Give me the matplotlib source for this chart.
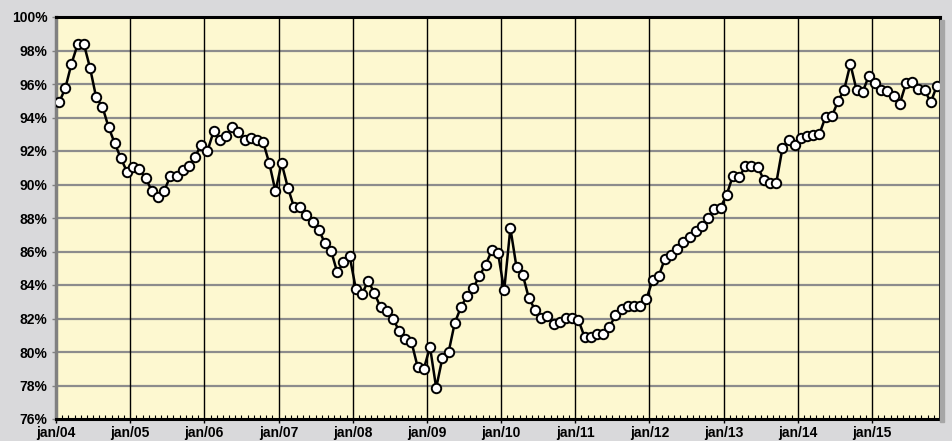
import numpy as np
import matplotlib
matplotlib.use("Agg")
import matplotlib.pyplot as plt
from matplotlib.patches import Rectangle
from matplotlib.ticker import FixedLocator, PercentFormatter

# Monthly values (%), jan/04 .. nov/15
y2004 = [94.9, 95.74, 97.2, 98.37, 98.4, 96.97, 95.2, 94.65, 93.43, 92.46, 91.56, 90.75]
y2005 = [91.03, 90.9, 90.37, 89.63, 89.23, 89.63, 90.49, 90.5, 90.85, 91.09, 91.66, 92.38]
y2006 = [92.0, 93.18, 92.66, 92.88, 93.43, 93.13, 92.66, 92.78, 92.66, 92.54, 91.27, 89.6]
y2007 = [91.27, 89.82, 88.65, 88.65, 88.15, 87.77, 87.31, 86.5, 86.04, 84.75, 85.35, 85.72]
y2008 = [83.78, 83.46, 84.25, 83.52, 82.67, 82.43, 81.97, 81.28, 80.8, 80.6, 79.11, 78.99]
y2009 = [80.3, 77.86, 79.63, 79.98, 81.73, 82.67, 83.36, 83.82, 84.55, 85.21, 86.06, 85.92]
y2010 = [83.68, 87.4, 85.05, 84.62, 83.2, 82.53, 82.04, 82.14, 81.7, 81.78, 82.02, 82.02]
y2011 = [81.92, 80.9, 80.88, 81.06, 81.06, 81.48, 82.18, 82.55, 82.77, 82.77, 82.77, 83.17]
y2012 = [84.27, 84.53, 85.57, 85.79, 86.13, 86.59, 86.87, 87.25, 87.54, 88.0, 88.53, 88.62]
y2013 = [89.4, 90.52, 90.42, 91.08, 91.1, 91.06, 90.28, 90.06, 90.06, 92.15, 92.64, 92.33]
y2014 = [92.78, 92.9, 92.94, 93.02, 94.05, 94.07, 94.96, 95.66, 97.19, 95.64, 95.54, 96.49]
y2015 = [96.06, 95.62, 95.56, 95.26, 94.83, 96.04, 96.13, 95.72, 95.66, 94.9, 95.9]

years = ["04", "05", "06", "07", "08", "09", "10", "11", "12", "13", "14", "15"]
tick_labels = [f"jan/{y}" for y in years]

values = np.array(y2004 + y2005 + y2006 + y2007 + y2008 + y2009 + y2010
                  + y2011 + y2012 + y2013 + y2014 + y2015)
n_months = len(values)
x = np.arange(n_months) + 0.5  # points sit between month ticks

W, H = 953, 441
fig = plt.figure(figsize=(W / 100, H / 100), dpi=100, facecolor="#d9d9db")
ax = fig.add_axes([56 / W, 1 - 419 / H, (940 - 56) / W, (419 - 17) / H])
ax.set_facecolor("#fdf8d0")

# drop shadow on the right of the plot area
fig.patches.append(Rectangle((940 / W, 1 - 422 / H), 4 / W, (422 - 20) / H,
                             transform=fig.transFigure, color="#a6a6a6",
                             zorder=0))

ax.set_xlim(0, n_months)
ax.set_ylim(76, 100)

# gridlines
for yv in range(78, 100, 2):
    ax.axhline(yv, color="#8c8c8c", lw=1.6, zorder=1)
major_x = [12 * i for i in range(len(years))]
for xv in major_x[1:]:
    ax.axvline(xv, color="black", lw=1.0, zorder=1)

ax.plot(x, values, color="black", lw=1.8, zorder=3,
        marker="o", markersize=6.8, markerfacecolor="white",
        markeredgecolor="black", markeredgewidth=1.4)

ax.xaxis.set_major_locator(FixedLocator(major_x))
ax.set_xticklabels(tick_labels)
ax.xaxis.set_minor_locator(FixedLocator(range(n_months)))
ax.set_yticks(range(76, 101, 2))
ax.yaxis.set_major_formatter(PercentFormatter(decimals=0))

ax.tick_params(axis="x", which="major", direction="out", length=3, width=1,
               pad=2, labelsize=10)
ax.tick_params(axis="x", which="minor", direction="in", length=3, width=0.8,
               color="black")
ax.tick_params(axis="y", which="major", direction="out", length=3, width=1,
               color="#808080", pad=3, labelsize=10)
for lab in ax.get_xticklabels() + ax.get_yticklabels():
    lab.set_fontfamily("Liberation Sans")
    lab.set_fontweight("bold")

ax.spines["left"].set_color("#808080")
ax.spines["left"].set_linewidth(2.5)
for side in ["top", "bottom", "right"]:
    ax.spines[side].set_color("black")
    ax.spines[side].set_linewidth(2.2)

fig.savefig("out.png", dpi=100, facecolor=fig.get_facecolor())
